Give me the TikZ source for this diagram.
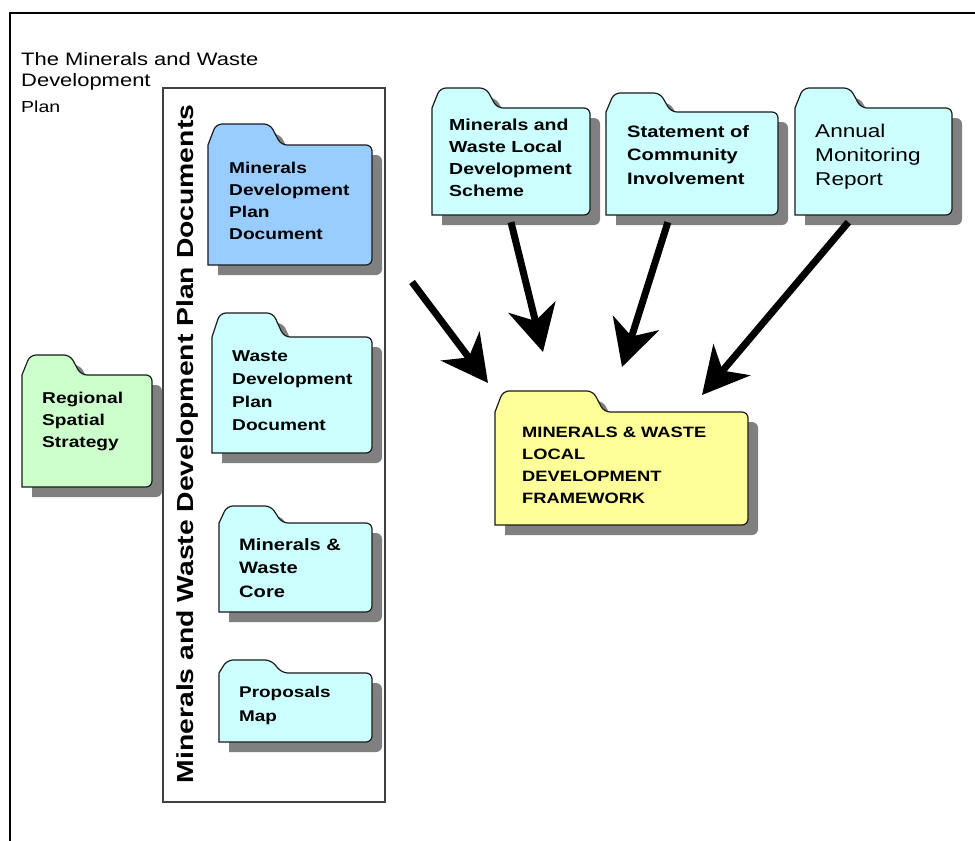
\documentclass[tikz,border=0pt]{standalone}
\usepackage{fontspec}
\setmainfont{Liberation Sans}[FakeStretch=1.22]
\usetikzlibrary{arrows.meta,fit,calc}
\definecolor{fblue}{HTML}{99CCFF}
\definecolor{fcyan}{HTML}{CCFFFF}
\definecolor{fgreen}{HTML}{CCFFCC}
\definecolor{fyellow}{HTML}{FFFF99}
\definecolor{fshadowc}{HTML}{808080}
\definecolor{fedgec}{HTML}{1A1A1A}
% #1 name, #2 L, #3 T, #4 R, #5 B, #6 tab top, #7 tab right, #8 fill
\newcommand\folder[8]{%
  \fill[fshadow] ({#2+10},{#3+10}) [rounded corners=6pt] -- ({#2+18},{#6+10}) -- ({#7-2},{#6+10}) -- ({#7+9},{#3+10}) -- ({#4+10},{#3+10}) -- ({#4+10},{#5+10}) [sharp corners] -- ({#2+10},{#5+10}) -- cycle;
  \filldraw[fedge, fill=#8] (#2,#3) [rounded corners=6pt] -- ({#2+8},#6) -- ({#7-12},#6) -- ({#7-1},#3) -- (#4,#3) -- (#4,#5) [sharp corners] -- (#2,#5) -- cycle;
  \node[fit={(#2,#3) (#4,#5)}, inner sep=0pt] (#1) {};
}
\tikzset{
  fshadow/.style={fill=fshadowc},
  fedge/.style={draw=fedgec, line width=1.2pt},
  ftext/.style={anchor=base west, align=left, inner sep=0pt, text=black},
  bigarrow/.style={line width=7pt, -{Stealth[length=46pt,width=48pt,inset=14pt]}},
}
\begin{document}
\begin{tikzpicture}[x=1pt,y=-1pt]
\useasboundingbox (0,0) rectangle (975,841);
\fill[white] (0,0) rectangle (975,841);
% outer frame
\draw[line width=2pt] (10,841) -- (10,13) -- (975,13);
% title (anchor = baseline of last line)
\node[ftext, font=\fontsize{18}{21}\selectfont] (title) at (21,112) {The Minerals and Waste\\Development\\[5pt]{\fontsize{16}{16}\selectfont Plan}};
% document box
\node[draw=black!75, line width=1.2pt, fit={(163,88) (385,802)}, inner sep=0pt] (docbox) {};
\node[rotate=90, anchor=base, inner sep=0pt, font=\bfseries\fontsize{23.2}{27}\selectfont] (vtitle) at (193,444) {Minerals and Waste Development Plan Documents};
% folders
\folder{mdpd}{208}{145}{372}{265}{124}{282}{fblue}
\node[ftext, font=\bfseries\fontsize{15.7}{21.7}\selectfont] (mdpdt) at (229,239) {Minerals\\Development\\Plan\\Document};
\folder{wdpd}{212}{337}{372}{453}{313}{285}{fcyan}
\node[ftext, font=\bfseries\fontsize{15.7}{22.7}\selectfont] (wdpdt) at (232,430) {Waste\\Development\\Plan\\Document};
\folder{mwc}{219}{523}{372}{612}{506}{283}{fcyan}
\node[ftext, font=\bfseries\fontsize{16.5}{23.5}\selectfont] (mwct) at (239,597) {Minerals \&\\Waste\\Core};
\folder{pm}{219}{673}{372}{742}{660}{283}{fcyan}
\node[ftext, font=\bfseries\fontsize{15.5}{24}\selectfont] (pmt) at (239,721) {Proposals\\Map};
\folder{rss}{22}{375}{152}{487}{355}{82}{fgreen}
\node[ftext, font=\bfseries\fontsize{15.7}{22}\selectfont] (rsst) at (42,447) {Regional\\Spatial\\Strategy};
\folder{mwlds}{432}{108}{590}{215}{88}{498}{fcyan}
\node[ftext, font=\bfseries\fontsize{16}{22}\selectfont] (mwldst) at (449,196) {Minerals and\\Waste Local\\Development\\Scheme};
\folder{sci}{606}{112}{778}{215}{93}{672}{fcyan}
\node[ftext, font=\bfseries\fontsize{16.5}{23.5}\selectfont] (scit) at (627,184) {Statement of\\Community\\Involvement};
\folder{amr}{795}{108}{952}{215}{88}{862}{fcyan}
\node[ftext, font=\fontsize{18.5}{24}\selectfont] (amrt) at (815,185) {Annual\\Monitoring\\Report};
\folder{mwldf}{495}{412}{748}{525}{391}{605}{fyellow}
\node[ftext, font=\bfseries\fontsize{15}{21.7}\selectfont] (mwldft) at (522,503) {MINERALS \& WASTE\\LOCAL\\DEVELOPMENT\\FRAMEWORK};
% arrows
\coordinate (s1) at (412,282);
\coordinate (t1) at (488,383);
\coordinate (t2) at (543,352);
\coordinate (t3) at (622,367);
\coordinate (t4) at (702,395);
\draw[bigarrow] (s1) -- (t1);
\draw[bigarrow] ([yshift=-7pt]mwlds.south) -- (t2);
\draw[bigarrow] ([yshift=-7pt]$(sci.south west)!0.36!(sci.south east)$) -- (t3);
\draw[bigarrow] ([yshift=-7pt]$(amr.south west)!0.34!(amr.south east)$) -- (t4);
\end{tikzpicture}
\end{document}
